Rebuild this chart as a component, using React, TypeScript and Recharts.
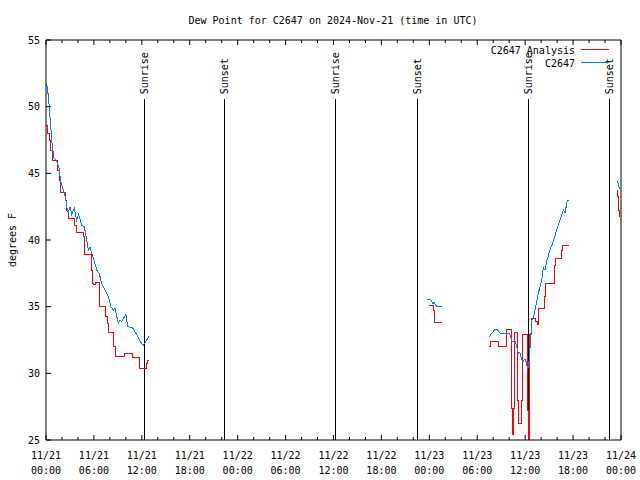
import React from "react";
import { LineChart, Line, XAxis, YAxis, ReferenceLine } from "recharts";

const FONT = "'DejaVu Sans Mono', monospace";

// time axis is hours since 11/21 00:00 UTC; null = no data
const ANALYSIS_HOURS = [
  0.0, 0.2, 0.38, 0.59, 0.79, 1.5, 1.63, 1.76, 2.42, 2.59, 2.79, 3.63, 3.84,
  4.67, 4.88, 5.72, 5.84, 6.0, 6.26, 6.67, 6.76, 7.42, 7.72, 7.8, 8.51, 8.68,
  9.77, 10.86, 11.77, 12.6, 12.73, 12.85,
  30,
  47.99, 48.5, 48.67, 49.55,
  52,
  55.51, 55.72, 56.72, 57.7, 58.31, 58.44, 58.57, 58.7, 59.01, 59.14, 59.5,
  59.65, 60.27, 60.4, 60.52, 60.6, 60.82, 61.29, 61.53, 61.73, 62.48, 62.6,
  63.66, 63.75, 64.55, 64.7, 65.53,
  68,
  71.54, 71.6, 71.71, 71.84, 71.9,
];
const ANALYSIS_DEWPT = [
  48.6, 48.0, 47.5, 46.75, 46.0, 45.25, 44.5, 43.6, 43.0, 42.25, 41.6, 41.1,
  40.55, 40.25, 38.9, 37.75, 36.75, 36.7, 36.8, 35.9, 35.0, 34.25, 33.75, 33.1,
  32.0, 31.25, 31.5, 31.2, 30.4, 30.75, 31.0, 31.0,
  null,
  35.1, 34.75, 33.8, 33.8,
  null,
  32.0, 32.4, 32.0, 33.3, 27.4, 25.4, 27.4, 33.1, 28.0, 26.25, 28.0, 32.9,
  27.25, 25.0, 27.25, 32.9, 34.1, 33.9, 33.7, 34.9, 35.8, 36.75, 38.1, 38.6,
  39.25, 39.6, 39.6,
  null,
  43.75, 43.3, 42.25, 41.75, 41.75,
];

const OBS_HOURS = [
  0.0, 0.16, 0.34, 0.59, 0.79, 1.0, 1.29, 1.63, 1.84, 2.17, 2.47, 2.59, 2.79,
  3.0, 3.22, 3.54, 3.84, 4.07, 4.26, 4.47, 4.8, 5.1, 5.3, 5.51, 5.72, 6.01,
  6.35, 6.67, 6.97, 7.39, 7.8, 8.14, 8.43, 8.64, 9.05, 9.27, 9.48, 9.77, 10.02,
  10.23, 10.86, 11.36, 11.77, 12.18, 12.52, 12.9,
  30,
  47.75, 48.17, 48.42, 48.62, 48.92, 49.55,
  52,
  55.51, 55.81, 56.22, 56.51, 56.85, 58.01, 58.19, 58.35, 58.77, 58.94, 59.14,
  59.35, 59.57, 59.77, 59.98, 60.19, 60.32, 60.48, 60.69, 60.82, 61.02, 61.23,
  61.44, 61.64, 61.86, 62.07, 62.27, 62.48, 62.7, 63.11, 63.52, 63.95, 64.36,
  64.78, 64.99, 65.28, 65.53,
  68,
  71.54, 71.71, 71.84,
];
const OBS_DEWPT = [
  51.7, 51.5, 50.5, 48.5, 47.0, 46.15, 46.0, 45.4, 44.4, 43.75, 43.1, 42.5,
  42.0, 42.5, 41.9, 42.4, 41.5, 41.9, 41.6, 41.1, 41.0, 40.0, 39.25, 39.5, 39.0,
  38.5, 37.75, 37.5, 36.75, 36.25, 35.75, 35.0, 34.75, 34.9, 33.75, 34.0, 33.9,
  34.2, 34.4, 33.5, 33.4, 32.9, 32.4, 32.1, 32.4, 32.8,
  null,
  35.5, 35.55, 35.25, 35.3, 35.0, 35.0,
  null,
  32.75, 33.0, 33.3, 33.3, 33.0, 33.0, 32.75, 32.4, 32.4, 32.0, 31.5, 31.55,
  31.0, 30.9, 31.1, 30.75, 30.25, 30.9, 32.5, 34.0, 34.1, 34.75, 35.4, 36.0,
  36.5, 37.0, 37.9, 37.75, 38.4, 39.25, 39.9, 40.75, 41.5, 42.25, 42.05, 42.95,
  42.95,
  null,
  44.4, 44.1, 43.8,
];

const X_TICKS = Array.from({ length: 37 }, (_, i) => i * 2);
const TICK_DATES = [
  "11/21", "11/21", "11/21", "11/21", "11/22", "11/22", "11/22",
  "11/22", "11/23", "11/23", "11/23", "11/23", "11/24",
];
const TICK_TIMES = [
  "00:00", "06:00", "12:00", "18:00", "00:00", "06:00", "12:00",
  "18:00", "00:00", "06:00", "12:00", "18:00", "00:00",
];
const Y_TICKS = [25, 30, 35, 40, 45, 50, 55];

const SUN_HOURS = [12.31, 22.41, 36.31, 46.46, 60.4, 70.54];
const SUN_LABELS = ["Sunrise", "Sunset", "Sunrise", "Sunset", "Sunrise", "Sunset"];

const analysis = ANALYSIS_HOURS.map((t, i) => ({ t, v: ANALYSIS_DEWPT[i] }));
const obs = OBS_HOURS.map((t, i) => ({ t, v: OBS_DEWPT[i] }));

function BottomTick(props: any) {
  const { x, y, payload } = props;
  const h = payload.value;
  const major = h % 6 === 0;
  const i = h / 6;
  return (
    <g>
      <line x1={x} x2={x} y1={y} y2={y - (major ? 5 : 3)} stroke="#000" />
      {major && (
        <text x={x} y={y} textAnchor="middle" fontFamily={FONT} fontSize={10} fill="#000">
          <tspan x={x} dy={19}>{TICK_DATES[i]}</tspan>
          <tspan x={x} dy={15}>{TICK_TIMES[i]}</tspan>
        </text>
      )}
    </g>
  );
}

function TopTick(props: any) {
  const { x, y, payload } = props;
  const major = payload.value % 6 === 0;
  return <line x1={x} x2={x} y1={y} y2={y + (major ? 5 : 3)} stroke="#000" />;
}

function sunLabel(text: string) {
  return (p: any) => {
    const vb = p.viewBox || {};
    const x = vb.x;
    const y = vb.y - 5;
    return (
      <text
        x={x}
        y={y}
        dy="0.35em"
        transform={`rotate(-90, ${x}, ${y})`}
        textAnchor="start"
        fontFamily={FONT}
        fontSize={10}
        fill="#000"
      >
        {text}
      </text>
    );
  };
}

export default function App() {
  return (
    <div style={{ position: "absolute", left: 0, top: 0, width: 640, height: 480, background: "#fff" }}>
      <LineChart width={640} height={480} margin={{ top: 0, right: 0, bottom: 0, left: 0 }}>
        <XAxis
          dataKey="t"
          type="number"
          domain={[0, 72]}
          ticks={X_TICKS}
          interval={0}
          height={40}
          tickSize={0}
          tickMargin={0}
          tickLine={false}
          axisLine={{ stroke: "#000" }}
          tick={<BottomTick />}
          allowDataOverflow
        />
        <XAxis
          xAxisId="top"
          orientation="top"
          dataKey="t"
          type="number"
          domain={[0, 72]}
          ticks={X_TICKS}
          interval={0}
          height={40}
          tickSize={0}
          tickMargin={0}
          tickLine={false}
          axisLine={{ stroke: "#000" }}
          tick={<TopTick />}
          allowDataOverflow
        />
        <YAxis
          type="number"
          domain={[25, 55]}
          ticks={Y_TICKS}
          interval={0}
          width={46}
          tickSize={-5}
          tickMargin={11}
          axisLine={{ stroke: "#000" }}
          tickLine={{ stroke: "#000" }}
          tick={{ fill: "#000", fontSize: 10, fontFamily: FONT }}
          allowDataOverflow
        />
        <YAxis
          yAxisId="r"
          orientation="right"
          type="number"
          domain={[25, 55]}
          ticks={Y_TICKS}
          interval={0}
          width={19}
          tickSize={-5}
          tick={false}
          axisLine={{ stroke: "#000" }}
          tickLine={{ stroke: "#000" }}
          allowDataOverflow
        />
        {SUN_HOURS.map((h, i) => (
          <ReferenceLine
            key={i}
            segment={[{ x: h, y: 50.55 }, { x: h, y: 25 }]}
            stroke="#000"
            strokeWidth={1}
            shapeRendering="crispEdges"
            label={sunLabel(SUN_LABELS[i])}
          />
        ))}
        <Line
          data={analysis}
          dataKey="v"
          type="stepAfter"
          stroke="#ff0000"
          strokeWidth={1}
          shapeRendering="crispEdges"
          dot={false}
          connectNulls={false}
          isAnimationActive={false}
        />
        <Line
          data={obs}
          dataKey="v"
          type="linear"
          stroke="#0080ff"
          strokeWidth={1}
          shapeRendering="crispEdges"
          dot={false}
          connectNulls={false}
          isAnimationActive={false}
        />
      </LineChart>
      <svg
        width={640}
        height={480}
        style={{ position: "absolute", left: 0, top: 0, pointerEvents: "none" }}
        fontFamily={FONT}
        fontSize={10}
      >
        <text x={333} y={20} dy="0.35em" textAnchor="middle" fill="#000">
          Dew Point for C2647 on 2024-Nov-21 (time in UTC)
        </text>
        <text x={12} y={240} dy="0.35em" textAnchor="middle" fill="#000" transform="rotate(-90, 12, 240)">
          degrees F
        </text>
        <text x={575} y={50} dy="0.35em" textAnchor="end" fill="#000">C2647 Analysis</text>
        <line x1={581} x2={609} y1={49.5} y2={49.5} stroke="#ff0000" />
        <text x={575} y={63} dy="0.35em" textAnchor="end" fill="#000">C2647</text>
        <line x1={581} x2={609} y1={62.5} y2={62.5} stroke="#0080ff" />
      </svg>
    </div>
  );
}
